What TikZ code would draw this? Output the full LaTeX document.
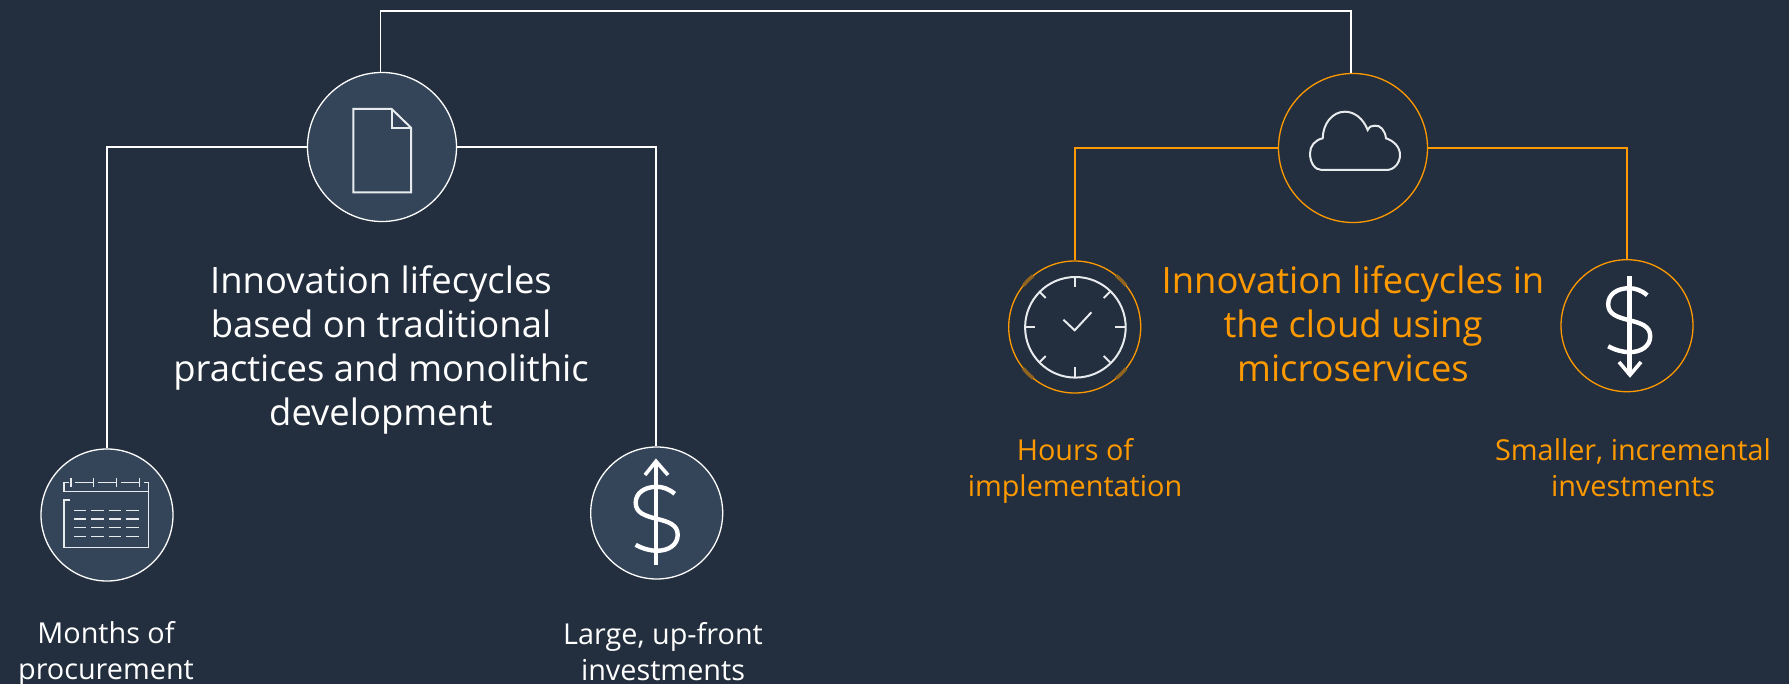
\documentclass[tikz,border=0pt]{standalone}
\usepackage{fontspec}
\setmainfont{Open Sans}
\definecolor{bgdark}{HTML}{232F3E}
\definecolor{disc}{HTML}{344559}
\definecolor{awsorange}{HTML}{FF9900}
\definecolor{iconline}{HTML}{E8EBEE}
\tikzset{
	bigdisc/.style={circle,draw=white,fill=disc,line width=1.3pt,minimum size=149pt,inner sep=0},
	smalldisc/.style={circle,draw=white,fill=disc,line width=1.3pt,minimum size=132pt,inner sep=0},
	orangebig/.style={circle,draw=awsorange,fill=bgdark,line width=1.3pt,minimum size=149pt,inner sep=0},
	orangesmall/.style={circle,draw=awsorange,fill=bgdark,line width=1.3pt,minimum size=132pt,inner sep=0},
	whiteline/.style={draw=white,line width=1.8pt},
	orangeline/.style={draw=awsorange,line width=1.8pt},
	heading/.style={align=center,inner sep=0,font=\fontsize{36.4}{43.8}\selectfont},
	caption/.style={align=center,inner sep=0,font=\fontsize{28.8}{36}\selectfont},
	dollarcurve/.pic={
		\draw[white,line width=4.4pt] (18,-25) .. controls (12,-30) and (6,-32) .. (0,-32) .. controls (-12,-32) and (-21,-26) .. (-21,-16) .. controls (-21,-6) and (-12,-3) .. (0,0) .. controls (12,3) and (21,6) .. (21,16) .. controls (21,26) and (12,32) .. (0,32) .. controls (-6,32) and (-14,30) .. (-21,26);
	}
}
\begin{document}
\begin{tikzpicture}[x=1pt,y=-1pt]
	\useasboundingbox (0,0) rectangle (1789,684);
	\fill[bgdark] (0,0) rectangle (1789,684);

	% discs
	\node[bigdisc] (doc) at (382,147) {};
	\node[smalldisc] (calendar) at (107,515) {};
	\node[smalldisc] (upfront) at (656.7,513) {};
	\node[orangebig] (cloud) at (1353,148) {};
	\node[orangesmall] (clock) at (1074.7,327) {};
	\node[orangesmall] (smaller) at (1627,325.7) {};
	\coordinate (topbar) at (867,11);

	% connectors
	\draw[whiteline] ([xshift=-1.5pt]doc.north) |- (topbar) -| ([xshift=-2pt]cloud.north);
	\draw[whiteline] (doc.west) -| (calendar.north);
	\draw[whiteline] (doc.east) -| ([xshift=-1pt]upfront.north);
	\draw[orangeline] (cloud.west) -| (clock.north);
	\draw[orangeline] (cloud.east) -| (smaller.north);

	% document icon
	\begin{scope}[shift={(doc)},draw=iconline,line width=2pt]
		\draw (-28.7,-38) -- (9.7,-38) -- (29,-19.3) -- (29,45.3) -- (-28.7,45.3) -- cycle;
		\draw (9.7,-38) -- (9.7,-19.3) -- (29,-19.3);
	\end{scope}

	% calendar icon
	\begin{scope}[shift={(calendar)},draw=iconline,line width=1.4pt]
		\draw (-43,-32.7) -- (-43,-23.3) -- (41.3,-23.3) -- (41.3,-32.7);
		\draw (-43,-32.7) -- (-38,-32.7) (-32,-32.7) -- (-13.7,-32.7) (-9.3,-32.7) -- (9.7,-32.7) (14,-32.7) -- (32.3,-32.7) (37,-32.7) -- (41.3,-32.7);
		\foreach \xa in {-36,-13.7,9.7,32.3}
			\draw (\xa,-37) -- (\xa,-28.3);
		\draw (-37,-15) -- (-43,-15) -- (-43,32.7) -- (41.3,32.7) -- (41.3,-23.3);
		\foreach \ya in {-4.7,4,12.7,21.3}
			\foreach \xa/\xb in {-33/-21,-15.7/-3,1.7/14.3,19/32}
				\draw (\xa,\ya) -- (\xb,\ya);
	\end{scope}

	% dollar signs
	\pic at (656.7,518.8) {dollarcurve};
	\draw[white,line width=4.4pt] (656,461.3) -- (656,564.7);
	\draw[white,line width=3.6pt] (645,475) -- (656,461.3) -- (668,475);
	\pic at (1629.2,320.2) {dollarcurve};
	\draw[white,line width=4.4pt] (1629.5,276) -- (1629.5,375);
	\draw[white,line width=3.6pt] (1619,362) -- (1630,375) -- (1641,362);

	% cloud icon
	\begin{scope}[shift={(cloud)}]
		\draw[iconline,line width=2pt] (-31.3,22) -- (33.7,22) .. controls (41,22) and (47,15) .. (47,7) .. controls (47,-1) and (41,-7) .. (33,-9.7) .. controls (32,-18) and (27,-23) .. (22,-22.3) .. controls (19,-23) and (16,-21) .. (14.7,-18) .. controls (10,-30) and (1,-36.3) .. (-8,-36.3) .. controls (-21,-36.3) and (-30,-24) .. (-30.3,-9.7) .. controls (-38,-8) and (-43,-2) .. (-43,5.3) .. controls (-43,15) and (-38,22) .. (-31.3,22) -- cycle;
	\end{scope}

	% clock icon
	\begin{scope}[shift={(clock)}]
		\foreach \ang in {45,135,225,315}
			\draw[awsorange!50!bgdark,line width=3.5pt] (\ang-6:66) arc[start angle=\ang-6,end angle=\ang+6,radius=66];
		\draw[iconline,line width=2pt] (0.7,0.3) circle (50.3);
		\foreach \ang in {0,90,180,270}
			\draw[iconline,line width=2pt] (\ang:50) -- (\ang:40);
		\foreach \ang in {45,135,225,315}
			\draw[iconline,line width=2pt] (\ang:50) -- (\ang:41);
		\draw[iconline,line width=2pt] (-11.3,-7.3) -- (0,3.3) -- (16.7,-14.7);
	\end{scope}

	% texts
	\node[heading,white] (lefthead) at (381,350) {Innovation lifecycles\\based on traditional\\practices and monolithic\\development};
	\node[heading,awsorange] (righthead) at (1353,323.5) {Innovation lifecycles in\\the cloud using\\microservices};
	\node[caption,white] (months) at (106,654) {Months of\\procurement};
	\node[caption,white] (large) at (663,651.5) {Large, up-front\\investments};
	\node[caption,awsorange] (hours) at (1075,471) {Hours of\\implementation};
	\node[caption,awsorange] (small) at (1633,468) {Smaller, incremental\\investments};
\end{tikzpicture}
\end{document}
